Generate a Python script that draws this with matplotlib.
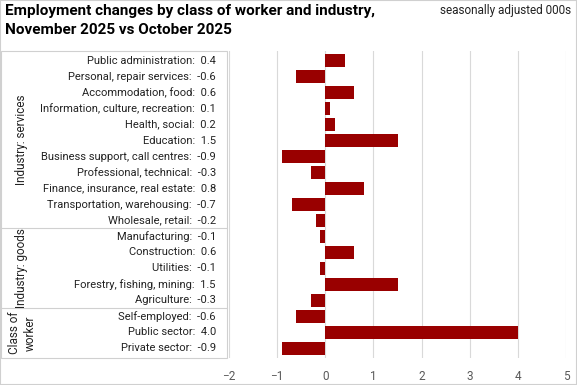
import matplotlib
matplotlib.use("Agg")
import matplotlib.pyplot as plt
from matplotlib import font_manager
from matplotlib.transforms import blended_transform_factory

labels = [
    "Private sector", "Public sector", "Self-employed",
    "Agriculture", "Forestry, fishing, mining", "Utilities", "Construction", "Manufacturing",
    "Wholesale, retail", "Transportation, warehousing", "Finance, insurance, real estate",
    "Professional, technical", "Business support, call centres", "Education",
    "Health, social", "Information, culture, recreation", "Accommodation, food",
    "Personal, repair services", "Public administration",
]
values = [-0.9, 4.0, -0.6,
          -0.3, 1.5, -0.1, 0.6, -0.1,
          -0.2, -0.7, 0.8, -0.3, -0.9, 1.5, 0.2, 0.1, 0.6, -0.6, 0.4]
groups = ["Class of\nworker", "Industry: goods", "Industry: services"]
group_bounds = [(-0.6, 2.5), (2.5, 7.5), (7.5, 18.6)]
xticks = [-2, -1, 0, 1, 2, 3, 4, 5]

names = {f.name for f in font_manager.fontManager.ttflist}
narrow = "Liberation Sans Narrow" if "Liberation Sans Narrow" in names else "Roboto"
plt.rcParams["font.family"] = ["Roboto", "DejaVu Sans"]

W, H = 577, 385
fig = plt.figure(figsize=(W / 100, H / 100), dpi=100)
ax = fig.add_axes([229 / W, 27 / H, 337 / W, 307 / H])

ypos = list(range(len(labels)))
ax.barh(ypos, values, height=0.8, color="#990000", zorder=3)
ax.set_xlim(-2, 5)
ax.set_ylim(-0.6, 18.6)
ax.set_xticks(xticks)
ax.set_yticks([])
ax.grid(axis="x", color="#d9d9d9", linewidth=0.8, zorder=0)
ax.tick_params(axis="x", length=0, labelsize=8.5, labelcolor="#595959", pad=9)
for s in ax.spines.values():
    s.set_visible(False)

tr = blended_transform_factory(fig.transFigure, ax.transData)
# white table over the left part of the plot
fig.patches.append(plt.Rectangle((1 / W, 27 / H), 226 / W, 307 / H, transform=fig.transFigure,
                                 facecolor="white", edgecolor="#d0d0d0", linewidth=0.8, zorder=5))
for lab, v in zip(labels, values):
    fig.text(216 / W, ypos[labels.index(lab)], f"{lab}:  {v:.1f}", transform=tr,
             ha="right", va="center", fontsize=8, color="#222222", zorder=6)
for b in [2.5, 7.5]:
    fig.lines.append(plt.Line2D([1 / W, 227 / W], [b, b], transform=tr, color="#d0d0d0",
                                linewidth=0.8, zorder=6))
for g, (lo, hi) in zip(groups, group_bounds):
    fig.text(22 / W, (lo + hi) / 2, g, transform=tr, rotation=90, ha="center", va="center",
             fontsize=8.5, color="#222222", linespacing=1.3, zorder=6)

fig.text(5 / W, 1 - 4 / H, "Employment changes by class of worker and industry,\nNovember 2025 vs October 2025",
         ha="left", va="top", fontsize=11, fontweight="bold", family=narrow, linespacing=1.45)
fig.text(1 - 6 / W, 1 - 4 / H, "seasonally adjusted 000s", ha="right", va="top", fontsize=8.5,
         color="#222222")

fig.patches.append(plt.Rectangle((0, 0), 1, 1, transform=fig.transFigure, fill=False,
                                 edgecolor="#d0d0d0", linewidth=1.5, zorder=10))
fig.savefig("out.png", dpi=100)
